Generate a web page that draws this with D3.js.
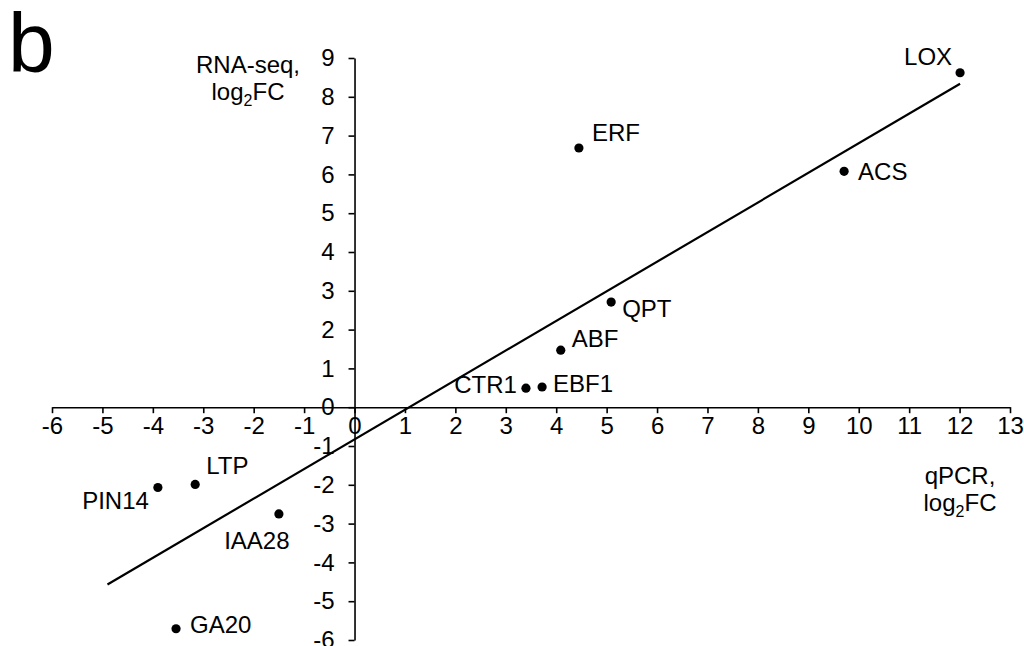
<!DOCTYPE html>
<html>
<head>
<meta charset="utf-8">
<script src="https://cdn.jsdelivr.net/npm/d3@7"></script>
<style>
  body { margin: 0; background: #fff; }
  svg { display: block; font-family: "Liberation Sans", Arial, sans-serif; }
</style>
</head>
<body>
<script>
// genes, qPCR log2FC (x) and RNA-seq log2FC (y)
const genes = ['LOX', 'ACS', 'ERF', 'QPT', 'ABF', 'EBF1', 'CTR1', 'LTP', 'PIN14', 'IAA28', 'GA20'];
const qpcr = [12.01, 9.71, 4.45, 5.09, 4.09, 3.72, 3.40, -3.16, -3.90, -1.50, -3.54];
const rnaseq = [8.62, 6.08, 6.68, 2.71, 1.47, 0.52, 0.49, -1.99, -2.07, -2.75, -5.71];

const xTicks = d3.range(-6, 14);
const yTicks = d3.range(-6, 10);

// where each label sits relative to its dot
const labelPos = {
  LOX: [-8, -8, 'end'], ACS: [14, 9, 'start'], ERF: [13, -7, 'start'],
  QPT: [11, 15, 'start'], ABF: [11, -3, 'start'], EBF1: [11, 5, 'start'],
  CTR1: [-9, 5, 'end'], LTP: [11, -10, 'start'], PIN14: [-9, 21, 'end'],
  IAA28: [-22, 35, 'middle'], GA20: [14, 4, 'start']
};

const W = 1024, H = 646;
const svg = d3.select('body').append('svg').attr('width', W).attr('height', H);

const x = d3.scaleLinear().domain([-6, 13]).range([52, 1010]);
const y = d3.scaleLinear().domain([-6, 9]).range([640, 58]);

const pts = genes.map((g, i) => ({ g, x: qpcr[i], y: rnaseq[i] }));

// least squares trendline (backward forecast of 1 unit)
const mx = d3.mean(qpcr), my = d3.mean(rnaseq);
const slope = d3.sum(pts, d => (d.x - mx) * (d.y - my)) / d3.sum(pts, d => (d.x - mx) ** 2);
const icpt = my - slope * mx;
const fx = [d3.min(qpcr) - 1, d3.max(qpcr)];

// x axis on y=0
const gx = svg.append('g')
  .attr('transform', `translate(0,${y(0)})`)
  .call(d3.axisBottom(x).tickValues(xTicks).tickSize(6).tickSizeOuter(0).tickPadding(4).tickFormat(d3.format('d')));

// y axis on x=0
const gy = svg.append('g')
  .attr('transform', `translate(${x(0)},0)`)
  .call(d3.axisLeft(y).tickValues(yTicks).tickSize(6).tickSizeOuter(0).tickPadding(14).tickFormat(d3.format('d')));

[gx, gy].forEach(g => {
  g.selectAll('path, line').attr('stroke', '#000').attr('stroke-width', 1.6);
  g.selectAll('text').attr('font-size', 24).attr('fill', '#000')
    .attr('font-family', '"Liberation Sans", Arial, sans-serif');
});
gx.selectAll('text').text(d => d3.format('d')(d).replace('−', '-')).attr('dy', '0.72em');
gy.selectAll('text').text(d => d3.format('d')(d).replace('−', '-'));

// trendline
svg.append('line')
  .attr('x1', x(fx[0])).attr('y1', y(slope * fx[0] + icpt))
  .attr('x2', x(fx[1])).attr('y2', y(slope * fx[1] + icpt))
  .attr('stroke', '#000').attr('stroke-width', 2.2);

// dots
svg.append('g').selectAll('circle')
  .data(pts).join('circle')
  .attr('cx', d => x(d.x)).attr('cy', d => y(d.y))
  .attr('r', 4.6).attr('fill', '#000');

// gene labels
svg.append('g').selectAll('text')
  .data(pts).join('text')
  .attr('x', d => x(d.x) + labelPos[d.g][0])
  .attr('y', d => y(d.y) + labelPos[d.g][1])
  .attr('text-anchor', d => labelPos[d.g][2])
  .attr('font-size', 24)
  .text(d => d.g);

// axis titles
const title = (cx, cy, first) => {
  svg.append('text').attr('x', cx).attr('y', cy).attr('text-anchor', 'middle')
    .attr('font-size', 24).text(first);
  const t = svg.append('text').attr('x', cx).attr('y', cy + 27).attr('text-anchor', 'middle')
    .attr('font-size', 24);
  t.append('tspan').text('log');
  t.append('tspan').attr('font-size', 16).attr('dy', 6).text('2');
  t.append('tspan').attr('dy', -6).text('FC');
};
title(248, 73, 'RNA-seq,');
title(960, 484, 'qPCR,');

// panel letter
svg.append('text').attr('x', 8).attr('y', 72).attr('font-size', 84).text('b');
</script>
</body>
</html>
